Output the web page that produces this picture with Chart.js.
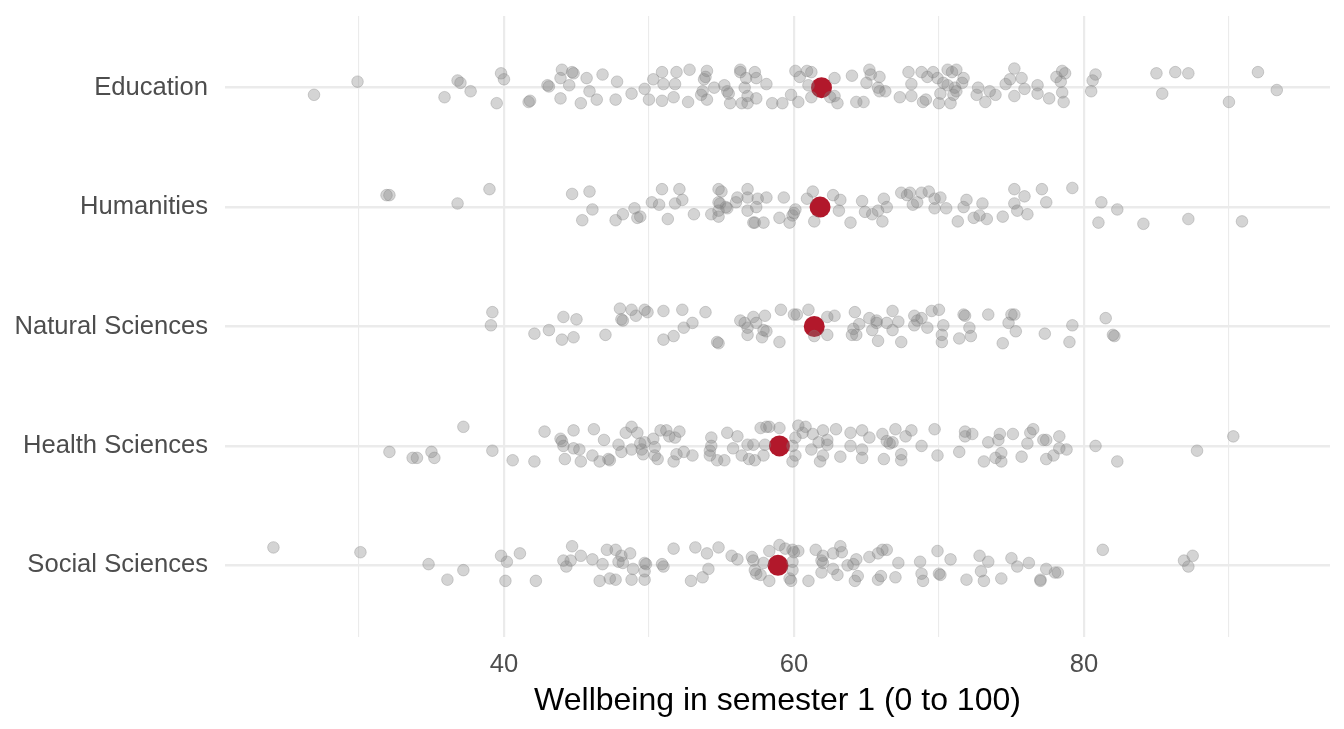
<!DOCTYPE html>
<html><head><meta charset="utf-8">
<script src="https://cdn.jsdelivr.net/npm/chart.js@4.4.1/dist/chart.umd.min.js"></script>
<style>html,body{margin:0;padding:0;background:#fff;overflow:hidden}#wrap{width:1344px;height:729px}</style>
</head><body><div id="wrap"><canvas id="c" width="1344" height="729"></canvas></div>
<script>
const categories = ["Education","Humanities","Natural Sciences","Health Sciences","Social Sciences"];
const xTickValues = [30,40,50,60,70,80,90];
const xTitle = "Wellbeing in semester 1 (0 to 100)";
const meanValues = [61.9, 61.8, 61.4, 59.0, 58.9];

const eduX = [26.9,29.9,35.9,36.8,37.0,37.7,39.8,40.0,39.5,41.7,
41.8,43.0,43.1,44.0,43.9,44.7,44.8,44.5,43.9,45.3,
45.7,45.9,46.4,46.8,47.8,47.7,48.8,49.7,50.0,50.3,
50.9,51.0,50.9,51.7,51.9,51.8,52.8,52.7,54.0,53.9,
53.8,53.7,53.6,54.0,54.5,55.2,55.4,55.5,55.6,56.3,
56.3,56.7,57.3,57.4,58.1,56.6,56.8,57.4,56.4,56.8,
58.5,60.1,60.4,60.9,61.2,61.0,59.8,59.2,60.3,61.2,
62.8,62.8,62.5,63.0,64.0,65.2,65.3,65.9,65.0,65.8,
65.9,66.3,64.3,64.8,67.9,68.8,69.2,69.6,69.9,68.1,
70.3,70.6,70.9,71.2,71.7,71.6,70.6,71.1,71.2,68.1,
67.3,70.1,71.0,68.9,69.1,70.0,70.8,72.7,72.6,73.5,
73.9,73.2,74.6,74.9,75.2,75.7,75.9,75.2,76.8,76.8,
77.6,78.1,78.5,78.7,78.4,78.5,78.6,80.8,80.6,80.5,
85.0,86.3,87.2,85.4,90.0,92.0,93.3];
const eduJ = [0.06,-0.05,0.08,-0.06,-0.04,0.03,-0.12,-0.07,0.13,0.12,
0.11,-0.02,-0.01,-0.15,-0.08,-0.13,-0.12,-0.02,0.09,0.13,
-0.08,0.03,0.10,-0.11,-0.05,0.10,0.05,0.01,0.10,-0.07,
-0.13,-0.03,0.11,0.08,-0.13,-0.03,-0.15,0.12,-0.14,-0.09,
-0.07,0.03,0.06,0.10,0.00,-0.02,0.03,0.05,0.13,-0.15,
-0.13,-0.08,-0.13,-0.08,-0.03,0.00,0.07,0.09,0.13,0.13,
0.13,-0.14,-0.09,-0.14,-0.13,-0.02,0.06,0.13,0.12,0.08,
-0.08,0.07,0.08,0.13,-0.10,-0.15,-0.11,-0.09,-0.04,0.00,
0.03,0.03,0.12,0.12,-0.13,-0.13,-0.09,-0.13,-0.08,-0.03,
-0.04,-0.15,-0.13,-0.15,-0.08,-0.04,-0.02,0.00,0.03,0.07,
0.08,0.05,0.06,0.12,0.10,0.13,0.13,0.00,0.06,0.03,
0.06,0.12,-0.03,-0.07,-0.16,-0.08,0.01,0.07,-0.02,0.05,
0.09,-0.09,-0.14,-0.12,-0.05,0.04,0.12,-0.11,-0.06,0.03,
-0.12,-0.13,-0.12,0.05,0.12,-0.13,0.02];

const humX = [31.9,32.1,36.8,39.0,44.7,45.9,46.1,45.4,47.7,48.2,
49.0,49.2,49.4,50.2,50.7,50.9,51.3,51.8,52.3,52.1,
53.1,54.3,54.8,55.0,54.8,54.9,54.8,54.8,55.3,55.4,
56.0,56.1,56.8,56.8,57.5,57.4,56.8,57.2,57.3,57.9,
58.1,59.0,59.3,59.7,59.9,60.0,60.1,60.9,61.3,61.4,
62.7,63.2,63.1,63.9,64.7,64.9,65.4,65.8,66.2,66.4,
66.1,67.4,67.8,68.0,68.2,68.5,68.8,69.3,69.7,70.1,
69.7,70.5,71.3,71.9,71.7,72.4,72.8,73.3,73.0,74.4,
75.2,75.9,75.2,75.4,76.1,77.1,77.4,79.2,81.2,82.3,
81.0,84.1,87.2,90.9];
const humJ = [-0.10,-0.10,-0.03,-0.15,-0.11,-0.13,0.02,0.11,0.11,0.06,
0.01,0.09,0.08,-0.04,-0.02,-0.15,0.10,-0.03,-0.06,-0.15,
0.06,0.06,-0.15,-0.13,-0.04,-0.03,0.03,0.08,0.00,0.01,
-0.04,-0.08,-0.15,-0.08,-0.07,0.00,0.03,0.13,0.13,0.13,
-0.08,0.09,-0.08,0.13,0.07,0.05,0.02,-0.07,-0.13,0.12,
-0.10,-0.06,0.03,0.13,-0.05,0.04,0.06,0.03,-0.07,0.00,
0.12,-0.12,-0.10,-0.12,-0.02,-0.04,-0.12,-0.13,-0.07,-0.08,
0.01,0.01,0.12,-0.06,0.00,0.09,0.07,0.10,-0.03,0.08,
-0.15,-0.09,-0.03,0.03,0.06,-0.15,-0.04,-0.16,-0.04,0.02,
0.13,0.14,0.10,0.12];

const natX = [39.2,39.1,42.1,43.1,44.1,45.0,44.0,44.8,47.0,48.0,
48.1,48.2,48.8,49.1,49.7,49.9,51.0,51.0,51.7,52.3,
52.4,53.0,53.9,54.7,54.8,56.3,56.6,56.8,56.8,57.2,
57.4,58.0,57.9,58.1,57.8,59.1,59.0,60.0,60.2,61.0,
62.3,62.8,62.3,61.4,64.2,64.5,64.1,64.0,64.3,65.2,
65.4,65.7,65.7,65.8,66.4,66.8,66.8,67.2,67.4,68.3,
68.5,68.3,68.8,69.2,69.5,70.0,70.3,70.2,70.2,71.4,
71.7,71.8,72.1,72.2,73.4,75.0,75.2,74.8,75.3,74.4,
77.3,79.2,79.0,81.5,82.0,82.1];
const natJ = [-0.12,-0.01,0.06,0.03,-0.08,-0.06,0.11,0.09,0.07,-0.15,
-0.06,-0.05,-0.14,-0.09,-0.14,-0.12,-0.13,0.11,0.08,-0.14,
0.01,-0.03,-0.12,0.13,0.14,-0.05,-0.03,0.01,0.07,-0.08,
-0.03,-0.09,0.03,0.04,0.09,-0.14,0.13,-0.10,-0.10,-0.14,
-0.08,-0.09,0.07,0.08,-0.12,-0.02,0.02,0.07,0.07,-0.07,
0.03,-0.05,-0.03,0.12,-0.03,-0.13,0.03,-0.04,0.13,-0.09,
-0.05,-0.01,-0.07,0.01,-0.13,-0.14,-0.01,0.07,0.13,0.10,
-0.10,-0.09,0.01,0.08,-0.10,-0.10,-0.10,-0.03,0.04,0.14,
0.06,-0.01,0.13,-0.07,0.07,0.08];

const heaX = [32.1,33.7,34.0,35.0,35.2,37.2,39.2,40.6,42.1,42.8,
43.9,44.0,44.1,44.2,44.8,44.8,45.2,45.3,46.1,46.2,
46.6,46.9,47.2,47.3,47.9,48.1,48.4,48.8,49.2,48.8,
49.4,49.5,49.7,49.6,50.3,50.4,50.4,50.6,50.8,51.2,
51.4,51.8,52.1,51.9,52.4,51.7,53.0,54.3,54.3,54.2,
54.2,54.7,55.2,55.4,55.8,56.1,56.4,56.8,57.2,56.9,
57.3,57.9,57.7,58.1,58.3,59.0,58.0,60.3,60.8,60.6,
61.3,60.1,59.9,60.1,59.9,62.0,61.7,62.3,62.3,61.2,
62.0,61.8,62.9,63.2,63.9,63.9,64.7,65.2,64.7,64.7,
66.1,66.4,66.6,66.8,67.0,67.7,68.1,66.2,67.4,67.4,
68.8,69.7,69.9,71.4,71.8,71.8,72.3,73.1,73.4,74.2,
74.1,74.3,73.9,74.3,75.1,75.7,76.1,76.3,76.5,77.2,
77.4,77.4,77.9,78.3,78.3,78.8,80.8,82.3,87.8,90.3];
const heaJ = [0.05,0.10,0.10,0.05,0.10,-0.16,0.04,0.12,0.13,-0.12,
-0.06,-0.04,0.00,0.11,-0.13,0.02,0.03,0.13,0.08,-0.14,
0.13,-0.05,0.11,0.12,-0.01,0.05,-0.11,-0.16,-0.11,0.03,
-0.02,0.03,-0.03,0.07,-0.06,0.01,0.08,0.11,-0.13,-0.13,
-0.08,-0.07,-0.12,0.07,0.05,0.13,0.08,-0.07,0.00,0.04,
0.08,0.12,0.12,-0.11,0.02,-0.08,0.08,-0.01,-0.01,0.11,
0.12,0.08,-0.15,-0.16,-0.16,-0.15,-0.01,-0.17,-0.16,-0.11,
-0.10,-0.07,0.00,0.08,0.13,-0.13,-0.03,-0.05,-0.01,0.03,
0.08,0.13,-0.14,0.09,-0.11,0.00,-0.13,-0.07,0.03,0.10,
-0.10,-0.04,-0.02,-0.03,-0.14,-0.08,-0.13,0.11,0.07,0.12,
0.00,-0.14,0.08,0.05,-0.12,-0.08,-0.10,0.13,-0.03,-0.10,
-0.05,0.06,0.10,0.13,-0.10,0.09,-0.02,-0.11,-0.14,-0.05,
-0.05,0.11,0.08,-0.08,0.02,0.03,0.00,0.13,0.04,-0.08];

const socX = [24.1,30.1,34.8,36.1,37.2,39.8,40.2,40.1,41.1,42.2,
44.7,44.1,44.6,44.3,45.3,46.1,46.8,46.6,47.1,47.7,
48.1,48.7,47.9,48.2,47.3,47.7,48.9,48.8,49.7,49.8,
49.7,49.7,50.9,51.0,51.7,52.9,53.2,54.0,54.8,54.1,
53.7,55.7,56.1,57.1,57.2,57.3,57.4,57.7,58.3,58.3,
57.9,59.0,59.4,59.9,60.0,60.3,59.9,59.9,59.7,59.8,
61.0,61.5,62.0,61.9,62.0,61.9,62.7,63.2,63.3,62.7,
63.0,63.7,64.1,64.3,64.2,64.4,65.2,65.8,66.1,66.4,
65.8,66.0,67.0,67.2,68.7,68.8,68.9,69.9,70.0,70.1,
70.8,71.9,72.8,73.4,72.9,73.1,74.3,75.0,75.4,76.2,
77.4,78.0,78.2,77.0,77.0,81.3,86.9,87.5,87.2];
const socJ = [-0.15,-0.11,-0.01,0.12,0.04,-0.08,-0.03,0.13,-0.10,0.13,
-0.16,-0.04,-0.04,0.01,-0.08,-0.05,-0.01,0.13,-0.13,-0.13,
-0.08,-0.10,-0.03,-0.02,0.11,0.12,0.03,0.12,-0.02,-0.01,
0.05,0.12,-0.01,0.01,-0.14,0.13,-0.15,-0.10,-0.15,0.03,
0.10,-0.08,-0.05,-0.07,-0.04,0.04,0.07,0.08,0.13,-0.12,
-0.02,-0.17,-0.14,-0.13,-0.11,-0.12,-0.03,0.04,0.11,0.13,
0.13,-0.13,-0.08,-0.04,-0.02,0.06,-0.10,-0.16,-0.11,0.03,
0.08,0.00,-0.01,-0.05,0.13,0.09,-0.07,-0.10,-0.13,-0.13,
0.12,0.09,0.10,-0.02,-0.03,0.07,0.13,-0.12,0.07,0.08,
-0.05,0.12,-0.08,-0.03,0.05,0.13,0.11,-0.06,0.01,-0.02,
0.03,0.06,0.06,0.12,0.13,-0.13,-0.04,-0.08,0.01];

const FONT = "'Liberation Sans', Arial, Helvetica, sans-serif";
const groups = [[eduX,eduJ],[humX,humJ],[natX,natJ],[heaX,heaJ],[socX,socJ]];
const datasets = groups.map((g, i) => ({
  label: categories[i],
  data: g[0].map((x, k) => ({x: x, y: i + g[1][k]})),
  backgroundColor: 'rgba(128,128,128,0.34)',
  borderColor: 'rgba(128,128,128,0.34)',
  borderWidth: 1,
  pointRadius: 5.8
}));
datasets.push({
  label: 'Mean',
  data: meanValues.map((x, i) => ({x: x, y: i})),
  backgroundColor: '#B2182B',
  borderColor: '#B2182B',
  borderWidth: 0,
  pointRadius: 10.5
});

new Chart(document.getElementById('c'), {
  type: 'scatter',
  data: {datasets},
  options: {
    responsive: false,
    animation: false,
    events: [],
    layout: {padding: {top: 16, right: 14, bottom: 0, left: 0}},
    plugins: {legend: {display: false}, tooltip: {enabled: false}},
    scales: {
      x: {
        type: 'linear', min: 20.76, max: 96.97,
        afterBuildTicks: s => { s.ticks = xTickValues.map(v => ({value: v})); },
        afterFit: s => { s.height = 92; s.paddingLeft = 0; s.paddingRight = 0; },
        ticks: {
          autoSkip: false, maxRotation: 0, padding: 13,
          color: '#4D4D4D', font: {size: 25.6, family: FONT},
          callback: v => (v % 20 === 0 ? String(v) : '')
        },
        grid: {
          color: '#EBEBEB', drawTicks: false,
          lineWidth: c => (c.tick && c.tick.value % 20 === 0 ? 2.2 : 1.1)
        },
        border: {display: false},
        title: {display: true, text: xTitle, color: '#000000',
          font: {size: 32, family: FONT}, padding: {top: 0, bottom: 9}}
      },
      y: {
        type: 'linear', min: -0.6, max: 4.6, reverse: true,
        afterBuildTicks: s => { s.ticks = categories.map((c, i) => ({value: i})); },
        afterFit: s => { s.width = 225; s.paddingTop = 0; s.paddingBottom = 0; },
        ticks: {
          autoSkip: false, padding: 17,
          color: '#4D4D4D', font: {size: 25.6, family: FONT},
          callback: v => categories[v]
        },
        grid: {color: '#EBEBEB', drawTicks: false, lineWidth: 2.4},
        border: {display: false}
      }
    }
  }
});
</script>
</body></html>
